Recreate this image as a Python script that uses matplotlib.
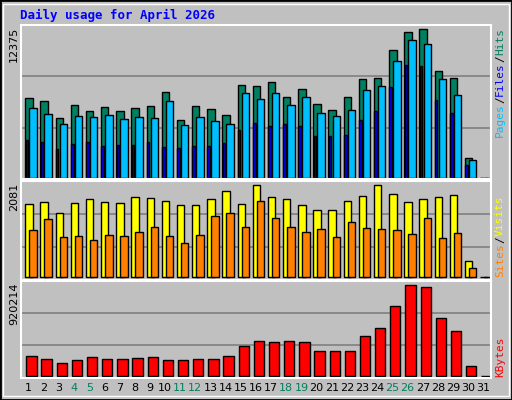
import matplotlib
matplotlib.use('Agg')
from matplotlib import pyplot as plt
from matplotlib.patches import Rectangle
import numpy as np

# daily values for April 2026
days = list(range(1, 32))
hits = [6644, 6395, 4983, 6063, 5564, 5897, 5564, 5814, 5980, 7143, 4817, 5980, 5731, 5232, 7724,
        7641, 7973, 6727, 7392, 6146, 5648, 6727, 8223, 8306, 10631, 12126, 12375, 8887, 8306, 1661, 0]
files = [5814, 5316, 4485, 5150, 5066, 5232, 4900, 5066, 4983, 6395, 4402, 5066, 4734, 4485, 7060,
         6561, 7060, 6063, 6727, 5398, 5150, 5648, 7309, 7641, 9717, 11462, 11130, 8223, 6894, 1495, 0]
pages = [3156, 2990, 2408, 2824, 2990, 2658, 2741, 2741, 2990, 2575, 2492, 2658, 2658, 2907, 3986,
         4568, 4318, 4485, 4318, 3488, 3488, 3571, 4817, 5564, 7557, 9384, 9301, 6478, 5398, 1080, 0]
visits = [1653, 1698, 1450, 1675, 1766, 1698, 1675, 1811, 1788, 1720, 1630, 1630, 1766, 1946, 1653,
          2081, 1811, 1766, 1630, 1518, 1518, 1720, 1833, 2081, 1878, 1698, 1766, 1811, 1856, 368, 0]
sites = [1067, 1315, 909, 932, 841, 954, 932, 1022, 1134, 932, 774, 954, 1382, 1450, 1134,
         1720, 1337, 1134, 1022, 1089, 909, 1247, 1112, 1089, 1067, 977, 1337, 887, 999, 210, 0]
kbytes = [194800, 164500, 124200, 154500, 184700, 164500, 164500, 174600, 184700, 154500, 154500,
          164500, 164500, 194800, 305600, 356000, 345900, 356000, 345900, 255200, 255200, 255200,
          406300, 486900, 708500, 920214, 900000, 587600, 456700, 94000, 0]
weekends = [4, 5, 11, 12, 18, 19, 25, 26]

BG = '#C0C0C0'
fig = plt.figure(figsize=(5.12, 4.0), dpi=100, facecolor=BG)
fig.patches.append(Rectangle((0, 0), 1, 1, transform=fig.transFigure, fill=False,
                             edgecolor='black', linewidth=2))
fig.patches.append(Rectangle((0.006, 0.01), 0.988, 0.98, transform=fig.transFigure, fill=False,
                             edgecolor='white', linewidth=1))

x = np.array(days)
L, W = 21 / 512, 470 / 512
ax1 = fig.add_axes([L, 0.5525, W, 0.386])
ax2 = fig.add_axes([L, 0.300, W, 0.248])
ax3 = fig.add_axes([L, 0.0558, W, 0.242])

def style(ax, top, bottom, label):
    ax.set_facecolor(BG)
    ax.set_xlim(0.5, 31.5)
    ax.set_ylim(bottom, top)
    for f in (1 / 3, 2 / 3):
        ax.axhline(bottom + (top - bottom) * f, color='#808080', linewidth=1.2, zorder=0)
    ax.set_yticks([])
    for s in ax.spines.values():
        s.set_color('white')
        s.set_linewidth(1.5)
    # label sits left of the panel, at figure x ~14 px
    pos = ax.get_position()
    fig.text(14 / 512, pos.y1 - 0.005, label, rotation=90, ha='center', va='top',
             fontsize=8, family='DejaVu Sans')

kw = dict(align='edge', edgecolor='black', linewidth=1)
ax1.bar(x - 0.22, hits, 0.49, color='#008060', **kw)
ax1.bar(x - 0.2, pages, 0.17, color='#0000FF', **kw)
ax1.bar(x + 0.05, files, 0.49, color='#00BFFF', **kw)
style(ax1, 12375 * 459 / 447, -120, '12375')
ax1.set_xticks([])

ax2.bar(x - 0.22, visits, 0.49, color='#FFFF00', **kw)
ax2.bar(x + 0.05, sites, 0.49, color='#FF8000', **kw)
style(ax2, 2081 * 289 / 277, -68, '2081')
ax2.set_xticks([])

ax3.bar(x - 0.15, kbytes, 0.68, color='#FF0000', **kw)
style(ax3, 920214 * 286 / 274, -20000, '920214')
ax3.set_xticks(days)
ax3.set_xticklabels([str(d) for d in days], fontsize=8)
ax3.tick_params(axis='x', length=0, pad=4)
for t, d in zip(ax3.get_xticklabels(), days):
    t.set_color('#008060' if d in weekends else 'black')

fig.text(20 / 512, 1 - 15 / 400, 'Daily usage for April 2026', color='#0000FF', fontsize=9,
         family='DejaVu Sans Mono', weight='bold', va='center')

mono = dict(rotation=90, ha='center', va='bottom', family='DejaVu Sans Mono', fontsize=8)
def side(parts, y0):
    y = y0
    for txt, col in parts:
        fig.text(500 / 512, y, txt, color=col, **mono)
        y += len(txt) * 0.0165 + 0.002

side([('Pages', '#00BFFF'), ('/', 'black'), ('Files', '#0000FF'), ('/', 'black'),
      ('Hits', '#008060')], 1 - 137 / 400)
side([('Sites', '#FF8000'), ('/', 'black'), ('Visits', '#FFFF00')], 1 - 277 / 400)
side([('KBytes', '#FF0000')], 1 - 377 / 400)

plt.savefig('out.png', dpi=100, facecolor=BG)
